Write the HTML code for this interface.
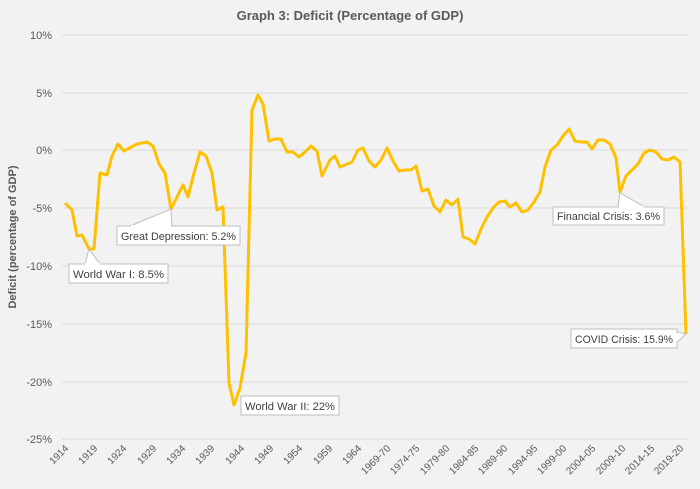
<!DOCTYPE html>
<html><head><meta charset="utf-8"><style>
body{margin:0;background:#f2f2f2;}
svg{display:block;font-family:"Liberation Sans",sans-serif;}
</style></head><body>
<svg width="700" height="489" viewBox="0 0 700 489" xmlns="http://www.w3.org/2000/svg">
<rect width="700" height="489" fill="#f2f2f2"/>
<text x="350" y="20" text-anchor="middle" font-size="13" font-weight="bold" fill="#595959">Graph 3: Deficit (Percentage of GDP)</text>
<g stroke="#d9d9d9" stroke-width="1">
<line x1="62" x2="688" y1="35" y2="35"/><line x1="62" x2="688" y1="93" y2="93"/><line x1="62" x2="688" y1="150" y2="150"/><line x1="62" x2="688" y1="208" y2="208"/><line x1="62" x2="688" y1="266" y2="266"/><line x1="62" x2="688" y1="324" y2="324"/><line x1="62" x2="688" y1="382" y2="382"/><line x1="62" x2="688" y1="439" y2="439"/>
</g>
<g font-size="11" fill="#595959" text-anchor="end">
<text x="52" y="39">10%</text><text x="52" y="97">5%</text><text x="52" y="154">0%</text><text x="52" y="212">-5%</text><text x="52" y="270">-10%</text><text x="52" y="328">-15%</text><text x="52" y="386">-20%</text><text x="52" y="443">-25%</text>
</g>
<text transform="translate(16,237) rotate(-90)" text-anchor="middle" font-size="11" font-weight="bold" fill="#595959">Deficit (percentage of GDP)</text>
<polyline fill="none" stroke="#ffc000" stroke-width="3" stroke-linejoin="round" points="65,203 72,210 77,236 82,235 89,249 94,249 100,173 107,175 112,156 118,144 124,151 137,144 147,142 153,146 159,164 165,173 171,209 177,197 183,185 188,197 194,173 200,152 206,156 212,173 217,210 223,207 229,383 234,405 240,388 246,353 252,110 258,95 263,104 269,141 275,139 281,139 287,152 293,152 299,157 305,152 311,146 317,151 322,176 330,160 335,156 340,167 352,162 358,150 363,148 369,161 375,167 381,160 387,148 393,161 399,171 405,170 411,170 416,166 422,191 428,189 434,206 440,212 446,200 452,205 458,199 463,237 469,239 475,244 481,229 487,217 493,208 499,202 505,201 510,207 516,203 522,212 528,210 534,202 540,192 545,167 551,150 557,145 563,136 569,129 575,141 581,142 587,142 592,149 598,140 604,140 610,144 616,158 620,192 626,176 632,170 638,164 644,153 650,150 656,152 662,159 668,160 674,157 680,162 686,334"/>
<g font-size="11" fill="#404040" stroke-width="1">
<path d="M89,249 L85,264 L100,264 Z" fill="#fff" stroke="#bfbfbf"/>
<rect x="69" y="264" width="99" height="19" fill="#fff" stroke="#bfbfbf"/>
<path d="M85,264 L100,264" stroke="#fff" stroke-width="2"/>
<text x="73" y="278" textLength="91" lengthAdjust="spacingAndGlyphs">World War I: 8.5%</text>
<path d="M171,209 L130,226 L172,226 Z" fill="#fff" stroke="#bfbfbf"/>
<rect x="117" y="226" width="123" height="19" fill="#fff" stroke="#bfbfbf"/>
<path d="M131,226 L171,226" stroke="#fff" stroke-width="2"/>
<text x="121" y="240" textLength="115" lengthAdjust="spacingAndGlyphs">Great Depression: 5.2%</text>
<rect x="241" y="396" width="98" height="19" fill="#fff" stroke="#bfbfbf"/>
<text x="245" y="410" textLength="90" lengthAdjust="spacingAndGlyphs">World War II: 22%</text>
<path d="M620,193 L618,207 L645,207 Z" fill="#fff" stroke="#bfbfbf"/>
<rect x="553" y="207" width="111" height="18" fill="#fff" stroke="#bfbfbf"/>
<path d="M619,207 L644,207" stroke="#fff" stroke-width="2"/>
<text x="557" y="220" textLength="103" lengthAdjust="spacingAndGlyphs">Financial Crisis: 3.6%</text>
<path d="M686,334 L677,332 L677,342 Z" fill="#fff" stroke="#bfbfbf"/>
<rect x="571" y="329" width="106" height="19" fill="#fff" stroke="#bfbfbf"/>
<path d="M677,333 L677,341" stroke="#fff" stroke-width="2"/>
<text x="575" y="343" textLength="98" lengthAdjust="spacingAndGlyphs">COVID Crisis: 15.9%</text>
</g>
<g font-size="10" fill="#595959" text-anchor="end">
<text transform="translate(69,449) rotate(-45)">1914</text>
<text transform="translate(98,449) rotate(-45)">1919</text>
<text transform="translate(127,449) rotate(-45)">1924</text>
<text transform="translate(157,449) rotate(-45)">1929</text>
<text transform="translate(186,449) rotate(-45)">1934</text>
<text transform="translate(215,449) rotate(-45)">1939</text>
<text transform="translate(245,449) rotate(-45)">1944</text>
<text transform="translate(274,449) rotate(-45)">1949</text>
<text transform="translate(303,449) rotate(-45)">1954</text>
<text transform="translate(333,449) rotate(-45)">1959</text>
<text transform="translate(362,449) rotate(-45)">1964</text>
<text transform="translate(391,449) rotate(-45)">1969-70</text>
<text transform="translate(420,449) rotate(-45)">1974-75</text>
<text transform="translate(450,449) rotate(-45)">1979-80</text>
<text transform="translate(479,449) rotate(-45)">1984-85</text>
<text transform="translate(508,449) rotate(-45)">1989-90</text>
<text transform="translate(538,449) rotate(-45)">1994-95</text>
<text transform="translate(567,449) rotate(-45)">1999-00</text>
<text transform="translate(596,449) rotate(-45)">2004-05</text>
<text transform="translate(626,449) rotate(-45)">2009-10</text>
<text transform="translate(655,449) rotate(-45)">2014-15</text>
<text transform="translate(684,449) rotate(-45)">2019-20</text>
</g>
</svg>
</body></html>
